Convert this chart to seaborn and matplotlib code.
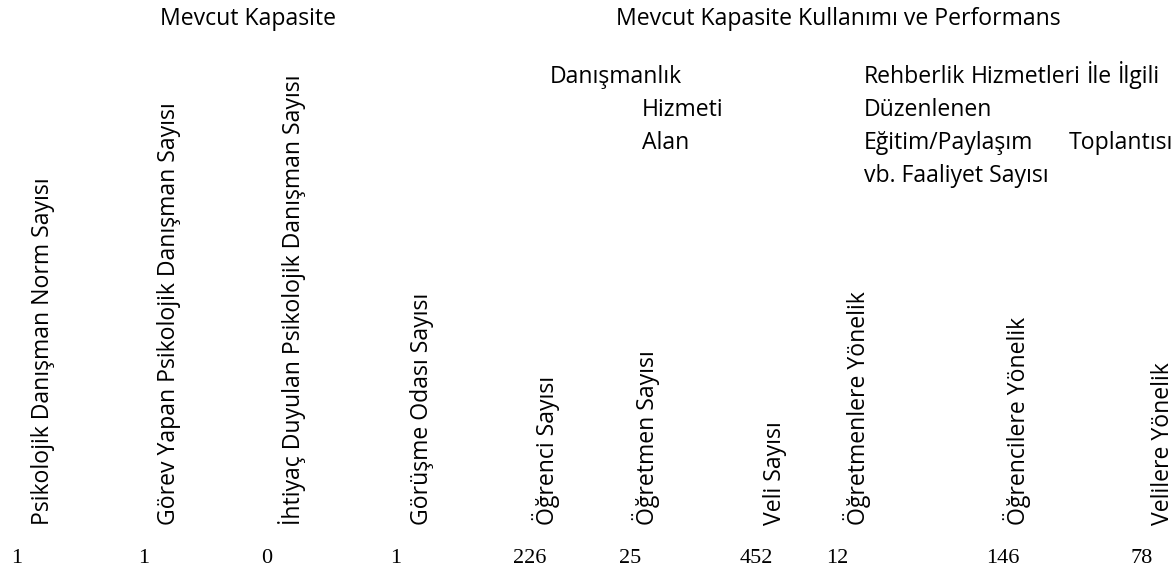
import matplotlib
matplotlib.use("Agg")
import matplotlib.pyplot as plt
import seaborn as sns
import pandas as pd

# Table content
group_titles = ["Mevcut Kapasite", "Mevcut Kapasite Kullanımı ve Performans"]
column_labels = [
    "Psikolojik Danışman Norm Sayısı",
    "Görev Yapan Psikolojik Danışman Sayısı",
    "İhtiyaç Duyulan Psikolojik Danışman Sayısı",
    "Görüşme Odası Sayısı",
    "Öğrenci Sayısı",
    "Öğretmen Sayısı",
    "Veli Sayısı",
    "Öğretmenlere Yönelik",
    "Öğrencilere Yönelik",
    "Velilere Yönelik",
]
values = [1, 1, 0, 1, 226, 25, 452, 12, 146, 78]
danismanlik_lines = ["Danışmanlık", "Hizmeti", "Alan"]
rehberlik_lines = ["Rehberlik Hizmetleri İle İlgili", "Düzenlenen",
                   "Eğitim/Paylaşım Toplantısı", "vb. Faaliyet Sayısı"]

# Layout (pixels, figure is 1176 x 572)
W, H = 1176, 572
label_x = [43, 169, 292, 422, 546, 646, 775, 857, 1017, 1163]
value_x = [11, 138, 261, 390, 513, 619, 740, 826, 986, 1130]
label_bottom = 525
value_base = 563
title_pos = [(248, 25, "center"), (616, 25, "left")]
dan_x = [550, 642, 642]
reh_x = 864
reh_right = [1160, None, 1173, None]  # justified lines end here
line_y0, line_step = 83, 33

sns.set_theme(style="white")
plt.rcParams["font.family"] = ["Open Sans", "DejaVu Sans"]
plt.rcParams["text.color"] = "black"

table = pd.DataFrame({"label": column_labels, "value": values,
                      "lx": label_x, "vx": value_x})

fig, ax = plt.subplots(figsize=(W / 100, H / 100), dpi=100)
fig.subplots_adjust(0, 0, 1, 1)
ax.set_xlim(0, W)
ax.set_ylim(H, 0)
ax.set_axis_off()
renderer = fig.canvas.get_renderer()

fs = 16.6
for (x, y, ha), t in zip(title_pos, group_titles):
    ax.text(x, y, t, ha=ha, va="baseline", fontsize=fs)

for i, t in enumerate(danismanlik_lines):
    ax.text(dan_x[i], line_y0 + i * line_step, t, ha="left", va="baseline", fontsize=fs)

# justified paragraph (like the Word cell)
for i, t in enumerate(rehberlik_lines):
    y = line_y0 + i * line_step
    words = t.split(" ")
    if reh_right[i] is None or len(words) == 1:
        ax.text(reh_x, y, t, ha="left", va="baseline", fontsize=fs)
        continue
    arts = [ax.text(0, y, w, ha="left", va="baseline", fontsize=fs) for w in words]
    widths = [a.get_window_extent(renderer).width for a in arts]
    gap = (reh_right[i] - reh_x - sum(widths)) / (len(words) - 1)
    x = reh_x
    for a, w in zip(arts, widths):
        a.set_x(x)
        x += w + gap

for _, row in table.iterrows():
    ax.text(row["lx"], label_bottom, row["label"], rotation=90, ha="center",
            va="bottom", fontsize=fs)
    ax.text(row["vx"], value_base, str(row["value"]), ha="left", va="baseline",
            fontsize=16, family="Liberation Serif")

fig.savefig("out.png", dpi=100, facecolor="white")
